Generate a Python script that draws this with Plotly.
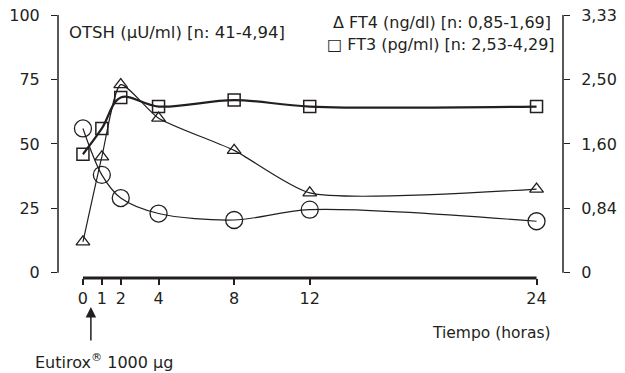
import plotly.graph_objects as go

hours = [0, 1, 2, 4, 8, 12, 24]
tsh = [56, 38, 29, 23, 20.5, 24.5, 20]
ft4 = [12, 45, 73, 60, 47.5, 31, 32.5]
ft3 = [46, 56, 68, 64.5, 67, 64.5, 64.5]

left_ticks = [0, 25, 50, 75, 100]
right_ticktext = ["0", "0,84", "1,60", "2,50", "3,33"]
x_ticks = [0, 1, 2, 4, 8, 12, 24]

INK = "#231f20"
FONT = "DejaVu Sans"

fig = go.Figure()
fig.add_trace(go.Scatter(x=hours, y=tsh, mode="lines+markers",
                         line=dict(color=INK, width=1.2, shape="spline", smoothing=0.9),
                         marker=dict(symbol="circle-open", size=17, color=INK, line=dict(width=1.3))))
fig.add_trace(go.Scatter(x=hours, y=ft4, mode="lines+markers",
                         line=dict(color=INK, width=1.2, shape="spline", smoothing=0.6),
                         marker=dict(symbol="triangle-up-open", size=12, color=INK, line=dict(width=1.3))))
fig.add_trace(go.Scatter(x=hours, y=ft3, mode="lines+markers",
                         line=dict(color=INK, width=2.2, shape="spline", smoothing=1),
                         marker=dict(symbol="square-open", size=12, color=INK, line=dict(width=1.5))))
# dummy for right axis
fig.add_trace(go.Scatter(x=[0], y=[0], yaxis="y2", mode="markers", marker=dict(opacity=0), hoverinfo="skip"))

fig.update_layout(
    width=625, height=373, showlegend=False,
    margin=dict(l=58, r=62, t=15, b=95),
    paper_bgcolor="white", plot_bgcolor="white",
    font=dict(family=FONT, size=16, color=INK),
    xaxis=dict(range=[-1.32, 25.4], tickvals=x_ticks, ticks="outside", ticklen=6, tickwidth=2,
               tickcolor=INK, showgrid=False, zeroline=False, showline=False, automargin=False),
    yaxis=dict(range=[-2, 100], tickvals=left_ticks, ticks="outside", ticklen=6, tickwidth=1.2,
               tickcolor=INK, showgrid=False, zeroline=False, showline=False, automargin=False,
               ticklabelstandoff=8),
    yaxis2=dict(range=[-2, 100], overlaying="y", side="right", tickvals=left_ticks,
                ticktext=right_ticktext, ticks="outside", ticklen=6, tickwidth=1.2, tickcolor=INK,
                showgrid=False, zeroline=False, showline=False, automargin=False, ticklabelstandoff=8),
)

# axis lines
fig.add_shape(type="line", xref="paper", yref="y", x0=0, x1=0, y0=0, y1=100, line=dict(color=INK, width=1.5))
fig.add_shape(type="line", xref="paper", yref="y", x0=1, x1=1, y0=0, y1=100, line=dict(color=INK, width=1.5))
fig.add_shape(type="line", xref="x", yref="paper", x0=0, x1=24, y0=0, y1=0, line=dict(color=INK, width=3))

fig.add_annotation(text="OTSH (μU/ml) [n: 41-4,94]", xref="paper", yref="paper", x=0.017, y=0.932,
                   xanchor="left", yanchor="middle", showarrow=False, font=dict(size=16.5))
fig.add_annotation(text="Δ FT4 (ng/dl) [n: 0,85-1,69]", xref="paper", yref="paper", x=0.98, y=0.973,
                   xanchor="right", yanchor="middle", showarrow=False, font=dict(size=16))
fig.add_annotation(text="□ FT3 (pg/ml) [n: 2,53-4,29]", xref="paper", yref="paper", x=0.988, y=0.886,
                   xanchor="right", yanchor="middle", showarrow=False, font=dict(size=16))
fig.add_annotation(text="Tiempo (horas)", xref="paper", yref="paper", x=0.98, y=-0.209,
                   xanchor="right", yanchor="middle", showarrow=False, font=dict(size=15.5))
fig.add_annotation(text="Eutirox<sup>®</sup> 1000 μg", xref="paper", yref="paper", x=-0.05, y=-0.318,
                   xanchor="left", yanchor="middle", showarrow=False, font=dict(size=16))
fig.add_annotation(text="", xref="x", yref="paper", x=0.42, y=-0.11, ax=0, ay=35,
                   showarrow=True, arrowhead=2, arrowsize=1.4, arrowwidth=1.5, arrowcolor=INK)

fig.write_html("out.html", config={"displayModeBar": False},
               post_script="document.body.style.margin='0';")
